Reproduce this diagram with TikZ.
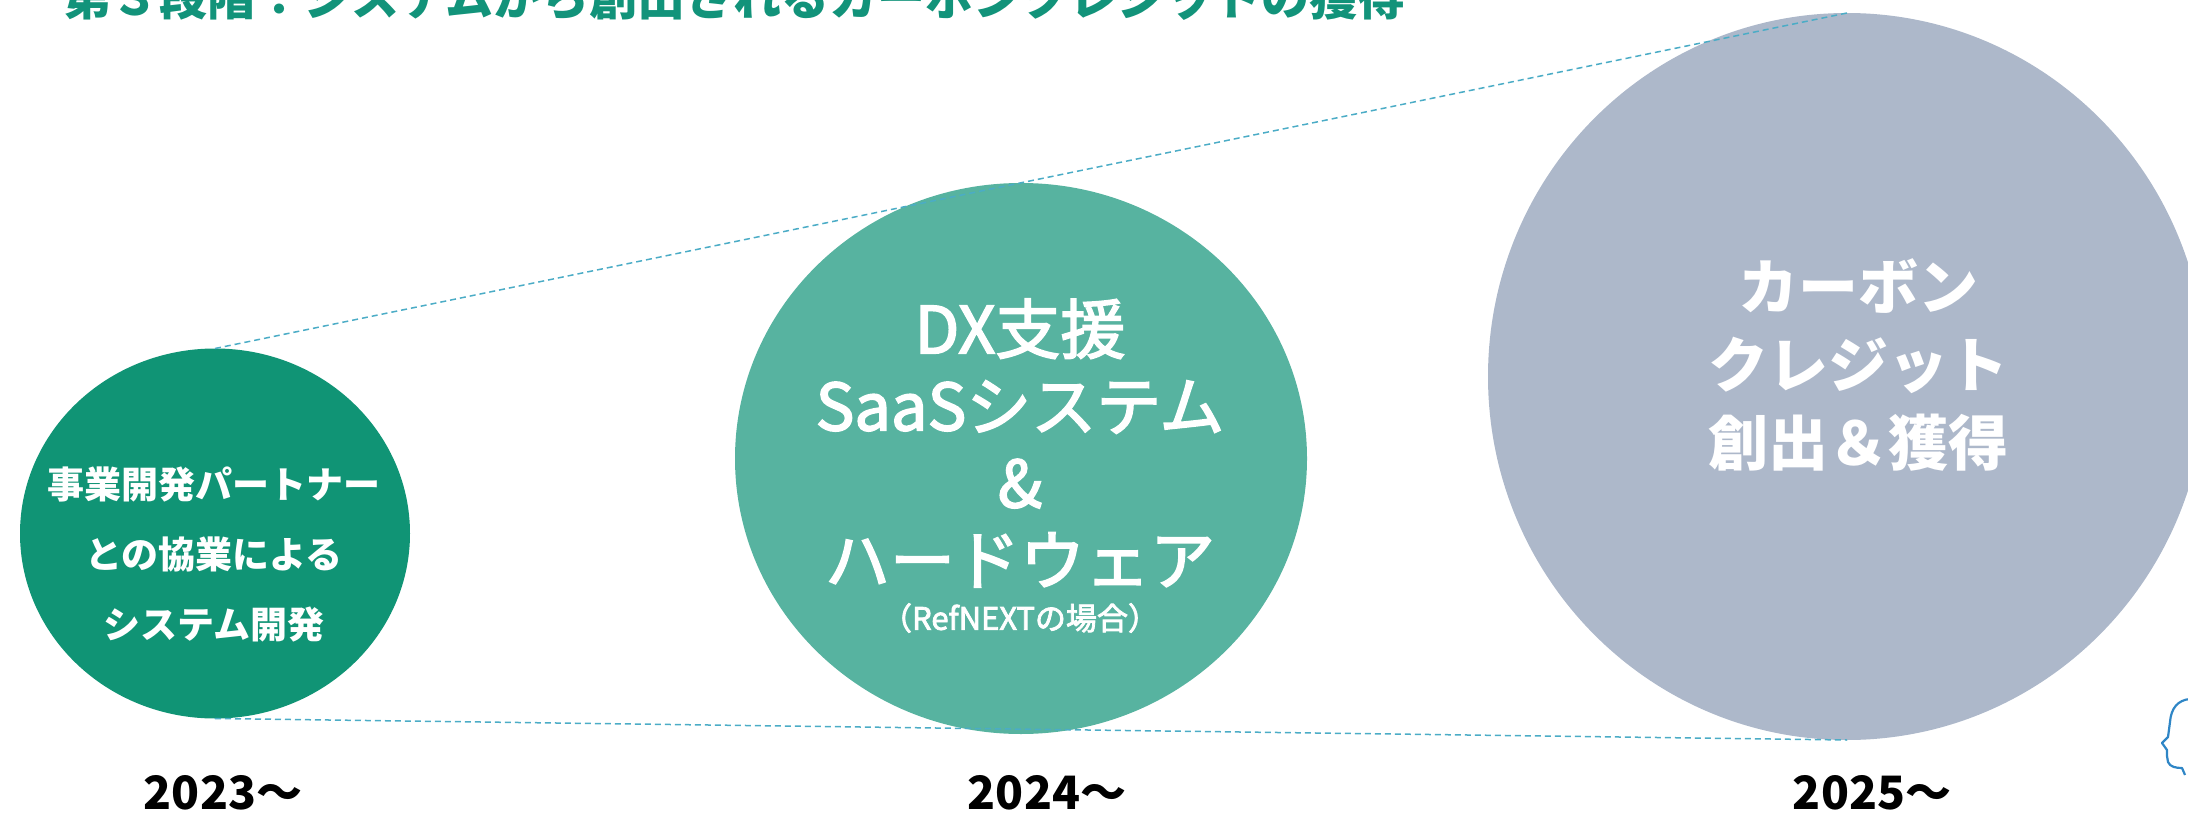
\documentclass[tikz,border=0pt]{standalone}
\usepackage{fontspec}
\setmainfont{Noto Sans CJK JP}
\newfontfamily\medfont[FakeBold=2.5]{Noto Sans CJK JP}
\usetikzlibrary{shapes.geometric}
\definecolor{cA}{HTML}{109475}
\definecolor{cB}{HTML}{57B3A0}
\definecolor{cC}{HTML}{ADB8CA}
\definecolor{dashc}{HTML}{4BACC6}
\definecolor{titlec}{HTML}{12937A}
\definecolor{headc}{HTML}{2F86C6}
\begin{document}
\begin{tikzpicture}[x=1pt,y=-1pt,
  bubble/.style={ellipse, inner sep=0pt, outer sep=0pt, draw=none},
  wtxt/.style={text=white, align=center, inner sep=0pt},
  year/.style={anchor=base, inner sep=0pt, font=\bfseries\fontsize{46}{54}\selectfont},
  dashline/.style={draw=dashc, line width=1.5pt, dash pattern=on 6pt off 4pt}]
\useasboundingbox (0,0) rectangle (2188,813);
\clip (0,0) rectangle (2188,813);
% title (cut at top)
\node[anchor=base west, inner sep=0pt, text=titlec, font=\bfseries\fontsize{48}{56}\selectfont] (title) at (63,16) {第３段階：システムから創出されるカーボンクレジットの獲得};
% bubbles
\node[bubble, fill=cA, minimum width=390pt, minimum height=370pt] (c1) at (215,533.5) {};
\node[bubble, fill=cB, minimum width=572pt, minimum height=551pt] (c2) at (1021,458.5) {};
\node[bubble, fill=cC, minimum width=718pt, minimum height=727pt] (c3) at (1847,376.5) {};
% dashed guides
\draw[dashline] (c1.north) -- (c3.north);
\draw[dashline] (c1.south) -- (c3.south);
% texts
\node[wtxt, font=\bfseries\fontsize{37}{70}\selectfont] (t1) at (214,554) {事業開発パートナー\\との協業による\\システム開発};
\node[wtxt, font=\medfont\fontsize{65}{77}\selectfont] (t2) at (1020,443) {DX支援\\SaaSシステム\\\&\\ハードウェア};
\node[wtxt, font=\medfont\fontsize{31}{36}\selectfont] (t2s) at (1020,618) {（RefNEXTの場合）};
\node[wtxt, font=\bfseries\fontsize{60}{78}\selectfont] (t3) at (1858,365) {カーボン\\クレジット\\創出＆獲得};
% years
\node[year] (y1) at (223,809) {2023～};
\node[year] (y2) at (1047,809) {2024～};
\node[year] (y3) at (1872,809) {2025～};
% head icon (partially visible)
\draw[headc, line width=2.2pt, line join=round] (2190,699) .. controls (2178,700) and (2171,708) .. (2170,722)
  -- (2168,737) -- (2162,743) -- (2167,750) -- (2167,756) -- (2168,762) .. controls (2170,767) and (2176,768) .. (2182,768) -- (2185,775);
\end{tikzpicture}
\end{document}
